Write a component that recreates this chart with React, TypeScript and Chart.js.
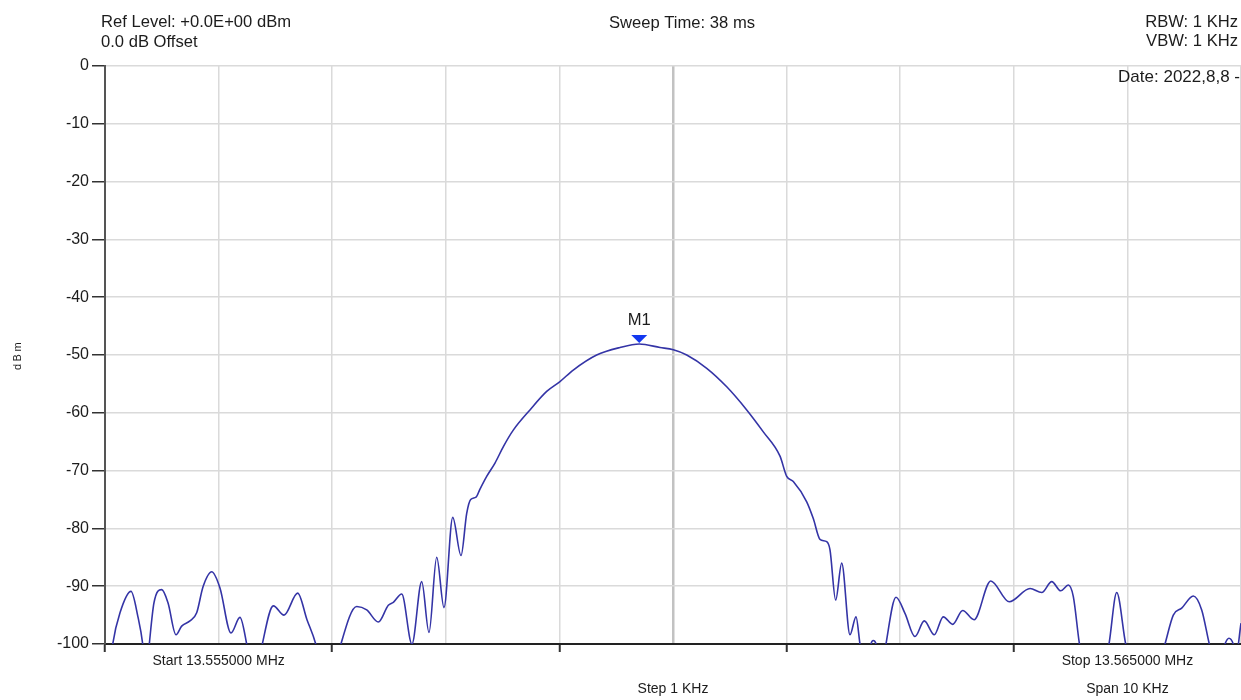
import React, { useEffect, useRef } from "react";
import { Chart, registerables } from "chart.js";

Chart.register(...registerables);

// Frequency offset from start (kHz) and measured level (dBm)
const freqOffsetKHz = [
  0, 0.068, 0.132, 0.229, 0.29, 0.332, 0.361, 0.39, 0.431, 0.499,
  0.555, 0.625, 0.675, 0.748, 0.807, 0.863, 0.939, 1.012, 1.109, 1.188,
  1.247, 1.312, 1.385, 1.482, 1.576, 1.696, 1.778, 1.855, 1.963, 2.077,
  2.216, 2.304, 2.406, 2.494, 2.538, 2.612, 2.702, 2.788, 2.852, 2.92,
  2.984, 3.061, 3.134, 3.184, 3.219, 3.266, 3.301, 3.36, 3.433, 3.508,
  3.594, 3.741, 3.888, 4.005, 4.122, 4.328, 4.533, 4.703, 4.886, 5.003,
  5.121, 5.297, 5.473, 5.649, 5.795, 5.942, 6.001, 6.059, 6.177, 6.235,
  6.294, 6.353, 6.382, 6.432, 6.485, 6.558, 6.611, 6.646, 6.699, 6.743,
  6.763, 6.787, 6.831, 6.875, 6.963, 7.042, 7.13, 7.212, 7.3, 7.379,
  7.462, 7.55, 7.65, 7.797, 7.96, 8.143, 8.246, 8.334, 8.413, 8.48,
  8.524, 8.578, 8.706, 8.838, 8.906, 8.985, 9.155, 9.331, 9.404, 9.478,
  9.58, 9.654, 9.721, 9.789, 9.859, 9.894, 9.932, 9.956, 10.0,
];

const levelDbm = [
  -112, -100, -94.6, -90.9, -95.3, -100, -106, -100, -92.9, -90.6,
  -92.9, -98.4, -96.9, -96.0, -94.6, -90.1, -87.5, -90.3, -98.1, -95.4,
  -100, -108, -100, -93.4, -95.0, -91.2, -95.8, -100, -110, -100,
  -93.5, -94.1, -96.2, -93.3, -92.8, -91.35, -100, -89.2, -98.0, -85.0,
  -93.7, -78.1, -84.7, -77.4, -75.0, -74.6, -73.2, -71.0, -68.7, -65.8,
  -63.0, -59.5, -56.3, -54.6, -52.6, -50.0, -48.7, -48.1, -48.7, -49.1,
  -50.0, -52.3, -55.5, -59.5, -63.3, -67.5, -71.0, -71.9, -75.4, -78.3,
  -81.9, -82.3, -83.7, -92.4, -86.0, -98.4, -95.3, -100, -106, -100,
  -99.4, -100, -106, -100, -91.9, -94.7, -98.7, -96.0, -98.4, -95.3,
  -96.6, -94.2, -95.8, -89.1, -92.7, -90.4, -91.1, -89.2, -90.8, -89.8,
  -91.8, -100, -112, -100, -91.1, -100, -112, -100, -95.0, -93.8,
  -91.7, -94.1, -100, -105, -100, -99.0, -100, -102, -96.4,
];

const yTickValues = [0, -10, -20, -30, -40, -50, -60, -70, -80, -90, -100];

const markerLabel = "M1";
const markerFreqKHz = 4.703;
const markerLevelDbm = -48.1;

const headerLeft = ["Ref Level: +0.0E+00 dBm", "0.0 dB Offset"];
const headerCenter = "Sweep Time: 38 ms";
const headerRight = ["RBW: 1 KHz", "VBW: 1 KHz"];
const dateText = "Date: 2022,8,8 -";
const startText = "Start 13.555000 MHz";
const stopText = "Stop 13.565000 MHz";
const stepText = "Step 1 KHz";
const spanText = "Span 10 KHz";
const yTitle = "dBm";

const FONT = '"Liberation Sans", Arial, sans-serif';
const TEXT = "#1c1c1c";

const annotations = {
  id: "annotations",
  afterDraw(chart: any) {
    const { ctx, chartArea, scales } = chart;
    const xs = scales.x;
    const ys = scales.y;
    ctx.save();
    ctx.fillStyle = TEXT;
    ctx.font = `16.6px ${FONT}`;
    ctx.textBaseline = "alphabetic";
    ctx.textAlign = "left";
    ctx.fillText(headerLeft[0], 101, 27);
    ctx.fillText(headerLeft[1], 101, 47);
    ctx.textAlign = "center";
    ctx.fillText(headerCenter, 682, 28);
    ctx.textAlign = "right";
    ctx.fillText(headerRight[0], 1238, 27);
    ctx.fillText(headerRight[1], 1238, 46);
    ctx.font = `17px ${FONT}`;
    ctx.fillText(dateText, 1240, 82);

    // bottom labels
    ctx.font = `14px ${FONT}`;
    ctx.textAlign = "center";
    ctx.textBaseline = "middle";
    ctx.fillText(startText, xs.getPixelForValue(1), 661);
    ctx.fillText(stopText, xs.getPixelForValue(9), 661);
    ctx.fillText(stepText, xs.getPixelForValue(5), 689);
    ctx.fillText(spanText, xs.getPixelForValue(9), 689);

    // y axis title
    ctx.save();
    ctx.translate(18, (chartArea.top + chartArea.bottom) / 2);
    ctx.rotate(-Math.PI / 2);
    ctx.font = `11px ${FONT}`;
    ctx.textAlign = "center";
    ctx.textBaseline = "middle";
    (ctx as any).letterSpacing = "2.5px";
    ctx.fillText(yTitle, 0, 0);
    ctx.restore();

    // marker
    const mx = xs.getPixelForValue(markerFreqKHz);
    const my = ys.getPixelForValue(markerLevelDbm);
    ctx.fillStyle = "#1238f0";
    ctx.beginPath();
    ctx.moveTo(mx - 8, my - 9);
    ctx.lineTo(mx + 8, my - 9);
    ctx.lineTo(mx, my - 1);
    ctx.closePath();
    ctx.fill();
    ctx.fillStyle = TEXT;
    ctx.font = `16.6px ${FONT}`;
    ctx.textAlign = "center";
    ctx.textBaseline = "alphabetic";
    ctx.fillText(markerLabel, mx, my - 19);
    ctx.restore();
  },
};

export default function App() {
  const ref = useRef<HTMLCanvasElement>(null);
  useEffect(() => {
    if (!ref.current) return;
    const chart = new Chart(ref.current, {
      type: "line",
      data: {
        datasets: [
          {
            data: freqOffsetKHz.map((f, i) => ({ x: f, y: levelDbm[i] })),
            borderColor: "#3434a6",
            borderWidth: 1.6,
            pointRadius: 0,
            fill: false,
            cubicInterpolationMode: "monotone",
          },
        ],
      },
      options: {
        animation: false,
        responsive: false,
        maintainAspectRatio: false,
        layout: { padding: { top: 66, right: 0, bottom: 0, left: 0 } },
        plugins: { legend: { display: false }, tooltip: { enabled: false } },
        scales: {
          x: {
            type: "linear",
            min: 0,
            max: 10,
            ticks: { stepSize: 1, display: false },
            afterFit: (s: any) => {
              s.height = 56;
            },
            grid: {
              color: (c: any) => (c.tick && c.tick.value === 5 ? "#c2c2c2" : "#dadada"),
              lineWidth: (c: any) => (c.tick && c.tick.value === 5 ? 2.5 : 1.5),
              tickColor: (c: any) =>
                c.tick && c.tick.value % 2 === 0 && c.tick.value < 10 ? "#333" : "rgba(0,0,0,0)",
              tickLength: 8,
              tickWidth: 2,
            },
            border: { color: "#222", width: 2 },
          },
          y: {
            type: "linear",
            min: -100,
            max: 0,
            afterBuildTicks: (s: any) => {
              s.ticks = yTickValues.map((v) => ({ value: v }));
            },
            ticks: {
              color: TEXT,
              font: { family: FONT, size: 16 },
              padding: 3,
            },
            afterFit: (s: any) => {
              s.width = 105;
            },
            grid: {
              color: "#dadada",
              lineWidth: 1.5,
              tickColor: "#333",
              tickLength: 13,
              tickWidth: 1.5,
            },
            border: { color: "#555", width: 2 },
          },
        },
      },
      plugins: [annotations],
    });
    return () => chart.destroy();
  }, []);
  return (
    <div style={{ position: "fixed", left: 0, top: 0, width: 1241, height: 700, background: "#fff" }}>
      <canvas ref={ref} width={1241} height={700} style={{ display: "block" }} />
    </div>
  );
}
